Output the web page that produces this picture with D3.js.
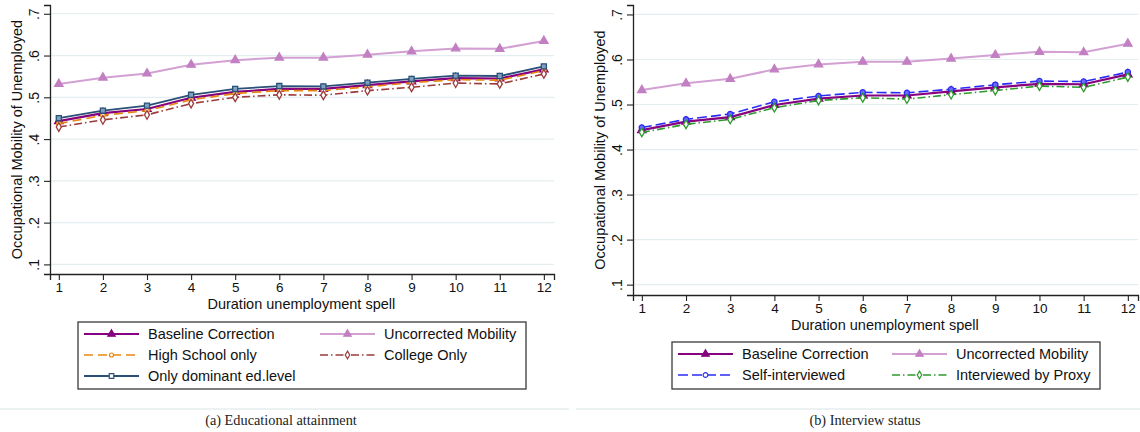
<!DOCTYPE html>
<html>
<head>
<meta charset="utf-8">
<script src="https://cdn.jsdelivr.net/npm/d3@7"></script>
<style>
  html, body { margin: 0; padding: 0; background: #ffffff; }
  svg { display: block; }
</style>
</head>
<body>
<svg id="chart" width="1140" height="432"></svg>
<script>
// ---------- data ----------
const durations = [1, 2, 3, 4, 5, 6, 7, 8, 9, 10, 11, 12];
const baseline = [0.443, 0.462, 0.472, 0.499, 0.513, 0.520, 0.520, 0.529, 0.538, 0.546, 0.545, 0.567];
const uncorrected = [0.532, 0.547, 0.557, 0.578, 0.589, 0.595, 0.595, 0.602, 0.610, 0.617, 0.616, 0.635];
const highSchool = [0.437, 0.457, 0.468, 0.494, 0.509, 0.516, 0.516, 0.525, 0.535, 0.542, 0.541, 0.564];
const collegeOnly = [0.429, 0.446, 0.458, 0.485, 0.500, 0.506, 0.505, 0.516, 0.524, 0.534, 0.532, 0.556];
const dominantEd = [0.450, 0.468, 0.480, 0.506, 0.520, 0.527, 0.526, 0.535, 0.544, 0.552, 0.551, 0.574];
const selfInterviewed = [0.449, 0.467, 0.479, 0.506, 0.519, 0.527, 0.526, 0.534, 0.544, 0.552, 0.551, 0.572];
const proxyInterviewed = [0.438, 0.456, 0.467, 0.493, 0.509, 0.515, 0.512, 0.522, 0.531, 0.541, 0.538, 0.561];
const yTicks = [0.1, 0.2, 0.3, 0.4, 0.5, 0.6, 0.7];
const yTickLabels = [".1", ".2", ".3", ".4", ".5", ".6", ".7"];
const xTitle = "Duration unemployment spell";
const yTitle = "Occupational Mobility of Unemployed";
const captionA = "(a) Educational attainment";
const captionB = "(b) Interview status";

// ---------- styles ----------
const styles = {
  base:  { name: "Baseline Correction", color: "#86007f", width: 2.2, dash: null, marker: "triangle", fill: "#86007f", msize: 30 },
  unc:   { name: "Uncorrected Mobility", color: "#d3a0d3", width: 2, dash: null, marker: "triangle", fill: "#c27fc2", mstroke: "#c27fc2", msize: 30 },
  hs:    { name: "High School only", color: "#e8870f", width: 1.6, dash: "9,5", marker: "circle", fill: "#ffffff", msize: 16 },
  col:   { name: "College Only", color: "#9c3b3b", width: 1.6, dash: "8,3,1.5,3", marker: "diamond", fill: "#ffffff", msize: 22 },
  dom:   { name: "Only dominant ed.level", color: "#2b5078", width: 1.8, dash: null, marker: "square", fill: "#7fa0c0", msize: 26 },
  self:  { name: "Self-interviewed", color: "#2b2bf5", width: 1.6, dash: "10,4", marker: "circle", fill: "#6a6aff", msize: 22 },
  proxy: { name: "Interviewed by Proxy", color: "#2e9a2e", width: 1.6, dash: "8,3,1.5,3", marker: "diamond", fill: "#ffffff", msize: 22 }
};

const svg = d3.select("#chart");
const FONT = "'Liberation Sans', Arial, sans-serif";

function symbolFor(m) {
  if (m === "triangle") return d3.symbolTriangle;
  if (m === "circle") return d3.symbolCircle;
  if (m === "diamond") return d3.symbolDiamond;
  return d3.symbolSquare;
}

function drawPanel(cfg) {
  const g = svg.append("g");
  const x = d3.scaleLinear().domain([0.8, 12.23]).range([cfg.left, cfg.right]);
  const y = d3.scaleLinear().domain([0.077, 0.721]).range([cfg.bottom, cfg.top]);

  // gridlines
  g.append("g").selectAll("line").data(yTicks).join("line")
    .attr("x1", cfg.left).attr("x2", cfg.right)
    .attr("y1", d => y(d)).attr("y2", d => y(d))
    .attr("stroke", "#e4edef").attr("stroke-width", 1.2);

  // y axis
  const yAxis = d3.axisLeft(y).tickValues(yTicks)
    .tickFormat((d, i) => yTickLabels[i]).tickSizeOuter(0).tickSize(6);
  const ya = g.append("g").attr("transform", `translate(${cfg.left},0)`).call(yAxis);
  ya.select(".domain").attr("stroke", "#222").attr("stroke-width", 1.3);
  ya.selectAll(".tick line").attr("stroke", "#222").attr("stroke-width", 1.1);
  ya.selectAll(".tick text")
    .attr("transform", "rotate(-90)")
    .attr("x", 0).attr("y", -11).attr("dy", 0)
    .attr("text-anchor", "middle")
    .attr("fill", "#111")
    .style("font-family", FONT).style("font-size", "14px");

  // x axis
  const xAxis = d3.axisBottom(x).tickValues(durations).tickSizeOuter(0).tickSize(6);
  const xa = g.append("g").attr("transform", `translate(0,${cfg.bottom})`).call(xAxis);
  xa.select(".domain").attr("stroke", "#222").attr("stroke-width", 1.3);
  xa.selectAll(".tick line").attr("stroke", "#222").attr("stroke-width", 1.1);
  xa.selectAll(".tick text").attr("y", 8).attr("dy", "0.71em")
    .attr("fill", "#111")
    .style("font-family", FONT).style("font-size", "13.5px");

  // axis titles
  g.append("text")
    .attr("x", (x(1) + x(12)) / 2).attr("y", cfg.bottom + 34.5)
    .attr("text-anchor", "middle")
    .style("font-family", FONT).style("font-size", "14.5px").attr("fill", "#111")
    .text(xTitle);
  g.append("text")
    .attr("transform", `translate(${cfg.left - 28},${(cfg.top + cfg.bottom) / 2}) rotate(-90)`)
    .attr("text-anchor", "middle")
    .style("font-family", FONT).style("font-size", "14.5px").attr("fill", "#111")
    .text(yTitle);

  // series
  const line = d3.line().x((d, i) => x(durations[i])).y(d => y(d));
  cfg.series.forEach(s => {
    const st = styles[s.key];
    g.append("path").datum(s.values)
      .attr("d", line)
      .attr("fill", "none")
      .attr("stroke", st.color)
      .attr("stroke-width", st.width)
      .attr("stroke-dasharray", st.dash)
      .attr("stroke-linejoin", "round");
    g.append("g").selectAll("path").data(s.values).join("path")
      .attr("transform", (d, i) => `translate(${x(durations[i])},${y(d)})`)
      .attr("d", d3.symbol().type(symbolFor(st.marker)).size(st.msize))
      .attr("fill", st.fill)
      .attr("stroke", st.mstroke || st.color)
      .attr("stroke-width", 1.3);
  });

  // legend
  const L = cfg.legend;
  g.append("rect")
    .attr("x", L.x).attr("y", L.y).attr("width", L.w).attr("height", L.h)
    .attr("fill", "#fff").attr("stroke", "#3a3a3a").attr("stroke-width", 1.3);
  cfg.series.forEach((s, i) => {
    const st = styles[s.key];
    const col = i % 2, row = Math.floor(i / 2);
    const sx = L.x + 6 + col * L.colW;
    const cy = L.y + 12 + row * L.rowH;
    g.append("line")
      .attr("x1", sx).attr("x2", sx + 55)
      .attr("y1", cy).attr("y2", cy)
      .attr("stroke", st.color).attr("stroke-width", st.width)
      .attr("stroke-dasharray", st.dash);
    g.append("path")
      .attr("transform", `translate(${sx + 27.5},${cy})`)
      .attr("d", d3.symbol().type(symbolFor(st.marker)).size(st.msize * 0.8))
      .attr("fill", st.marker === "triangle" ? st.fill : "#fff")
      .attr("stroke", st.mstroke || st.color).attr("stroke-width", 1.2);
    g.append("text")
      .attr("x", sx + 64).attr("y", cy + 5)
      .style("font-family", FONT).style("font-size", "14.5px").attr("fill", "#111")
      .text(st.name);
  });

  // separator + caption
  g.append("line")
    .attr("x1", cfg.sepX1).attr("x2", cfg.sepX2)
    .attr("y1", 409).attr("y2", 409)
    .attr("stroke", "#e6eced").attr("stroke-width", 1.3);
  g.append("text")
    .attr("x", cfg.capX).attr("y", 424.5)
    .attr("text-anchor", "middle")
    .style("font-family", "'Liberation Serif', 'Times New Roman', serif")
    .style("font-size", "14.3px").attr("fill", "#222")
    .text(cfg.caption);
}

drawPanel({
  left: 50, right: 554, top: 5, bottom: 274,
  series: [
    { key: "base", values: baseline },
    { key: "unc", values: uncorrected },
    { key: "hs", values: highSchool },
    { key: "col", values: collegeOnly },
    { key: "dom", values: dominantEd }
  ],
  legend: { x: 78, y: 322, w: 448, h: 67, colW: 236, rowH: 21 },
  sepX1: 0, sepX2: 569, capX: 281, caption: captionA
});

drawPanel({
  left: 633, right: 1138, top: 5, bottom: 295,
  series: [
    { key: "base", values: baseline },
    { key: "unc", values: uncorrected },
    { key: "self", values: selfInterviewed },
    { key: "proxy", values: proxyInterviewed }
  ],
  legend: { x: 672, y: 342, w: 428, h: 47, colW: 214, rowH: 21 },
  sepX1: 576, sepX2: 1140, capX: 865, caption: captionB
});
</script>
</body>
</html>
